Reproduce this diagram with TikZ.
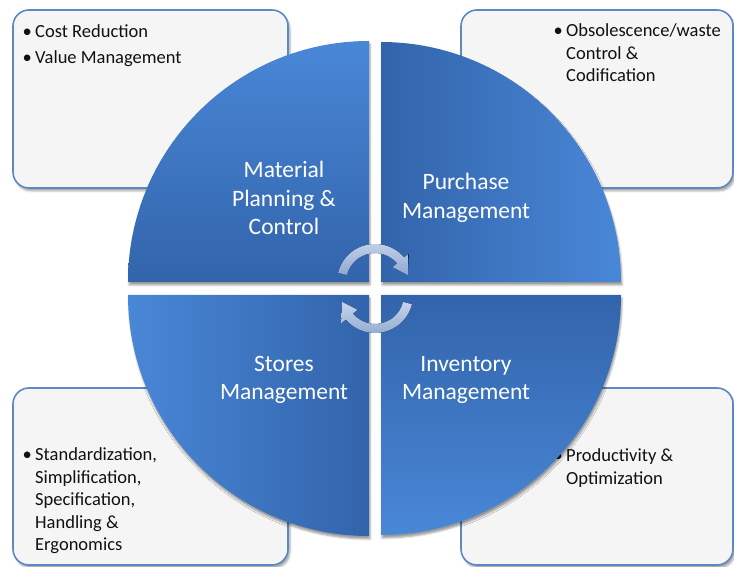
\documentclass[tikz,border=0pt]{standalone}
\usepackage{fontspec}
\setmainfont{Carlito}
\usetikzlibrary{shadows.blur}

\definecolor{quadlight}{HTML}{4987D7}
\definecolor{quaddark}{HTML}{3264AB}
\definecolor{boxedge}{HTML}{5A89C4}
\definecolor{boxfill}{HTML}{F5F5F5}
\definecolor{arrowlight}{HTML}{C6D4EA}
\definecolor{arrowdark}{HTML}{8FA8D0}
\definecolor{itemink}{HTML}{111111}

\newcommand{\bulletmark}{\llap{\makebox[16pt][c]{\textbullet}}}

\begin{document}
\begin{tikzpicture}[x=1pt,y=1pt,
  infobox/.style={draw=boxedge, line width=1.6pt, fill=boxfill, rounded corners=16pt,
    anchor=south west, inner sep=0pt, outer sep=0pt,
    blur shadow={shadow xshift=2pt, shadow yshift=-3pt, shadow opacity=35}},
  quad/.style={blur shadow={shadow xshift=1pt, shadow yshift=-3pt, shadow opacity=40}},
  quadlabel/.style={text=white, align=center, inner sep=0pt,
    font=\fontsize{23.5}{28.5}\selectfont},
  itemtext/.style={text=itemink, anchor=base west, inner sep=0pt,
    font=\fontsize{18.5}{22.5}\selectfont},
  cyclearrow/.style={top color=arrowlight, bottom color=arrowdark}]

\useasboundingbox (0,0) rectangle (734,567);

% corner boxes
\node[infobox, minimum width=275pt, minimum height=178pt] (boxTL) at (13,379) {};
\node[infobox, minimum width=272pt, minimum height=178pt] (boxTR) at (461,379) {};
\node[infobox, minimum width=275pt, minimum height=177pt] (boxBL) at (13,2) {};
\node[infobox, minimum width=272pt, minimum height=177pt] (boxBR) at (461,2) {};

% box texts
\node[itemtext] (txtTL) at (35,529) {\begin{tabular}[t]{@{}l@{}}
  \bulletmark Cost Reduction\\[3pt]
  \bulletmark Value Management\end{tabular}};
\node[itemtext] (txtTR) at (566,530) {\begin{tabular}[t]{@{}l@{}}
  \bulletmark Obsolescence/waste\\
  Control \&\\
  Codification\end{tabular}};
\node[itemtext] (txtBL) at (35,106) {\begin{tabular}[t]{@{}l@{}}
  \bulletmark Standardization,\\
  Simplification,\\
  Specification,\\
  Handling \&\\
  Ergonomics\end{tabular}};
\node[itemtext] (txtBR) at (566,105) {\begin{tabular}[t]{@{}l@{}}
  \bulletmark Productivity \&\\
  Optimization\end{tabular}};

% four quarter discs
\path[quad, top color=quadlight, bottom color=quaddark]
  (369,285) -- (128,285) arc[start angle=180, end angle=90, radius=241] -- cycle;
\path[quad, left color=quaddark, right color=quadlight]
  (381,285) -- (381,525) arc[start angle=90, end angle=0, radius=240] -- cycle;
\path[quad, left color=quadlight, right color=quaddark]
  (369,272) -- (369,31) arc[start angle=270, end angle=180, radius=241] -- cycle;
\path[quad, top color=quaddark, bottom color=quadlight]
  (381,272) -- (621,272) arc[start angle=0, end angle=-90, radius=240] -- cycle;

% quadrant labels
\node[quadlabel] (mpc) at (284,369) {Material\\Planning \&\\Control};
\node[quadlabel] (pur) at (466,369) {Purchase\\Management};
\node[quadlabel] (sto) at (284,187) {Stores\\Management};
\node[quadlabel] (inv) at (466,187) {Inventory\\Management};

% circular arrows in the middle
\begin{scope}[shift={(375,285)}]
  \fill[cyclearrow] (166:38) arc[start angle=166, end angle=40, radius=38]
    -- (40:44) -- (12:33.5) -- (40:23) -- (40:29)
    arc[start angle=40, end angle=166, radius=29] -- cycle;
\end{scope}
\begin{scope}[shift={(375,272)}, rotate=180]
  \fill[cyclearrow] (166:38) arc[start angle=166, end angle=40, radius=38]
    -- (40:44) -- (12:33.5) -- (40:23) -- (40:29)
    arc[start angle=40, end angle=166, radius=29] -- cycle;
\end{scope}
\end{tikzpicture}
\end{document}
